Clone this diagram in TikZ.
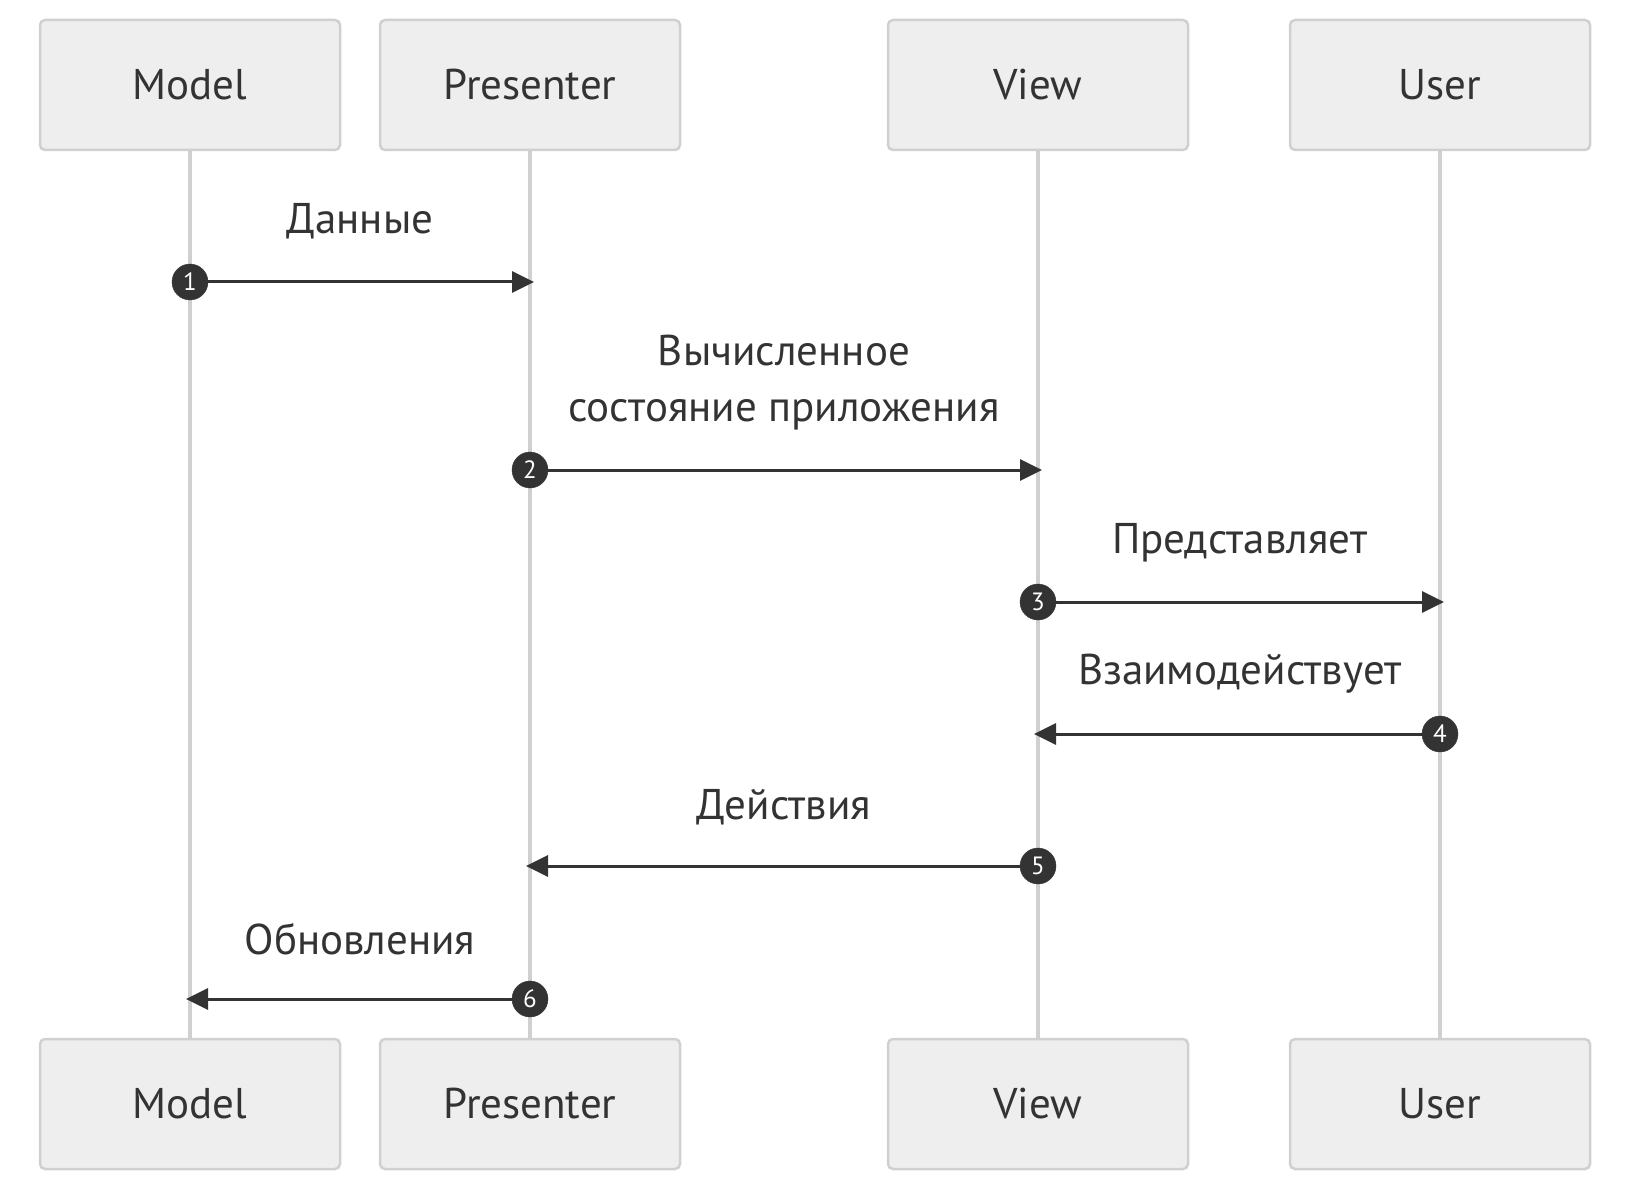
\documentclass[tikz,border=0pt]{standalone}
\usepackage{fontspec}
\setmainfont{PT Sans}
\usetikzlibrary{arrows.meta}
\definecolor{boxfill}{HTML}{EEEEEE}
\definecolor{boxline}{HTML}{D0D0D0}
\definecolor{ink}{HTML}{333333}
\begin{document}
\begin{tikzpicture}[x=1pt,y=-1pt,
  actor/.style={draw=boxline,line width=2.5pt,fill=boxfill,rounded corners=5pt,minimum width=300pt,minimum height=130pt,inner sep=0pt,font=\fontsize{43}{50}\selectfont,text=ink},
  life/.style={draw=boxline,line width=3.5pt},
  msg/.style={draw=ink,line width=3pt,-{Triangle[length=22pt,width=21pt]}},
  num/.style={circle,fill=ink,draw=ink,minimum size=36pt,inner sep=0pt,text=white,font=\fontsize{25}{28}\selectfont},
  lbl/.style={text=ink,font=\fontsize{43}{56}\selectfont,align=center}]
\useasboundingbox (0,0) rectangle (1630,1190);
% lifelines
\coordinate (mt) at (190,150); \coordinate (mb) at (190,1039);
\coordinate (pt) at (530,150); \coordinate (pb) at (530,1039);
\coordinate (vt) at (1038,150); \coordinate (vb) at (1038,1039);
\coordinate (ut) at (1440,150); \coordinate (ub) at (1440,1039);
\draw[life] (mt) -- (mb);
\draw[life] (pt) -- (pb);
\draw[life] (vt) -- (vb);
\draw[life] (ut) -- (ub);
% actors
\node[actor] (m1) at (190,85) {Model};
\node[actor] (p1) at (530,85) {Presenter};
\node[actor] (v1) at (1038,85) {View};
\node[actor] (u1) at (1440,85) {User};
\node[actor] (m2) at (190,1104) {Model};
\node[actor] (p2) at (530,1104) {Presenter};
\node[actor] (v2) at (1038,1104) {View};
\node[actor] (u2) at (1440,1104) {User};
% message endpoints
\coordinate (e1) at (534,282);
\coordinate (e2) at (1042,470);
\coordinate (e3) at (1444,602);
\coordinate (e4) at (1034,734);
\coordinate (e5) at (526,866);
\coordinate (e6) at (186,999);
% messages
\draw[msg] (190,282) -- (e1);
\draw[msg] (530,470) -- (e2);
\draw[msg] (1038,602) -- (e3);
\draw[msg] (1440,734) -- (e4);
\draw[msg] (1038,866) -- (e5);
\draw[msg] (530,999) -- (e6);
\node[num] (n1) at (190,282) {1};
\node[num] (n2) at (530,470) {2};
\node[num] (n3) at (1038,602) {3};
\node[num] (n4) at (1440,734) {4};
\node[num] (n5) at (1038,866) {5};
\node[num] (n6) at (530,999) {6};
% labels
\node[lbl] (l1) at (360,221) {Данные};
\node[lbl] (l2) at (784,383) {Вычисленное\\состояние приложения};
\node[lbl] (l3) at (1240,543) {Представляет};
\node[lbl] (l4) at (1240,674) {Взаимодействует};
\node[lbl] (l5) at (784,807) {Действия};
\node[lbl] (l6) at (360,939) {Обновления};
\end{tikzpicture}
\end{document}
